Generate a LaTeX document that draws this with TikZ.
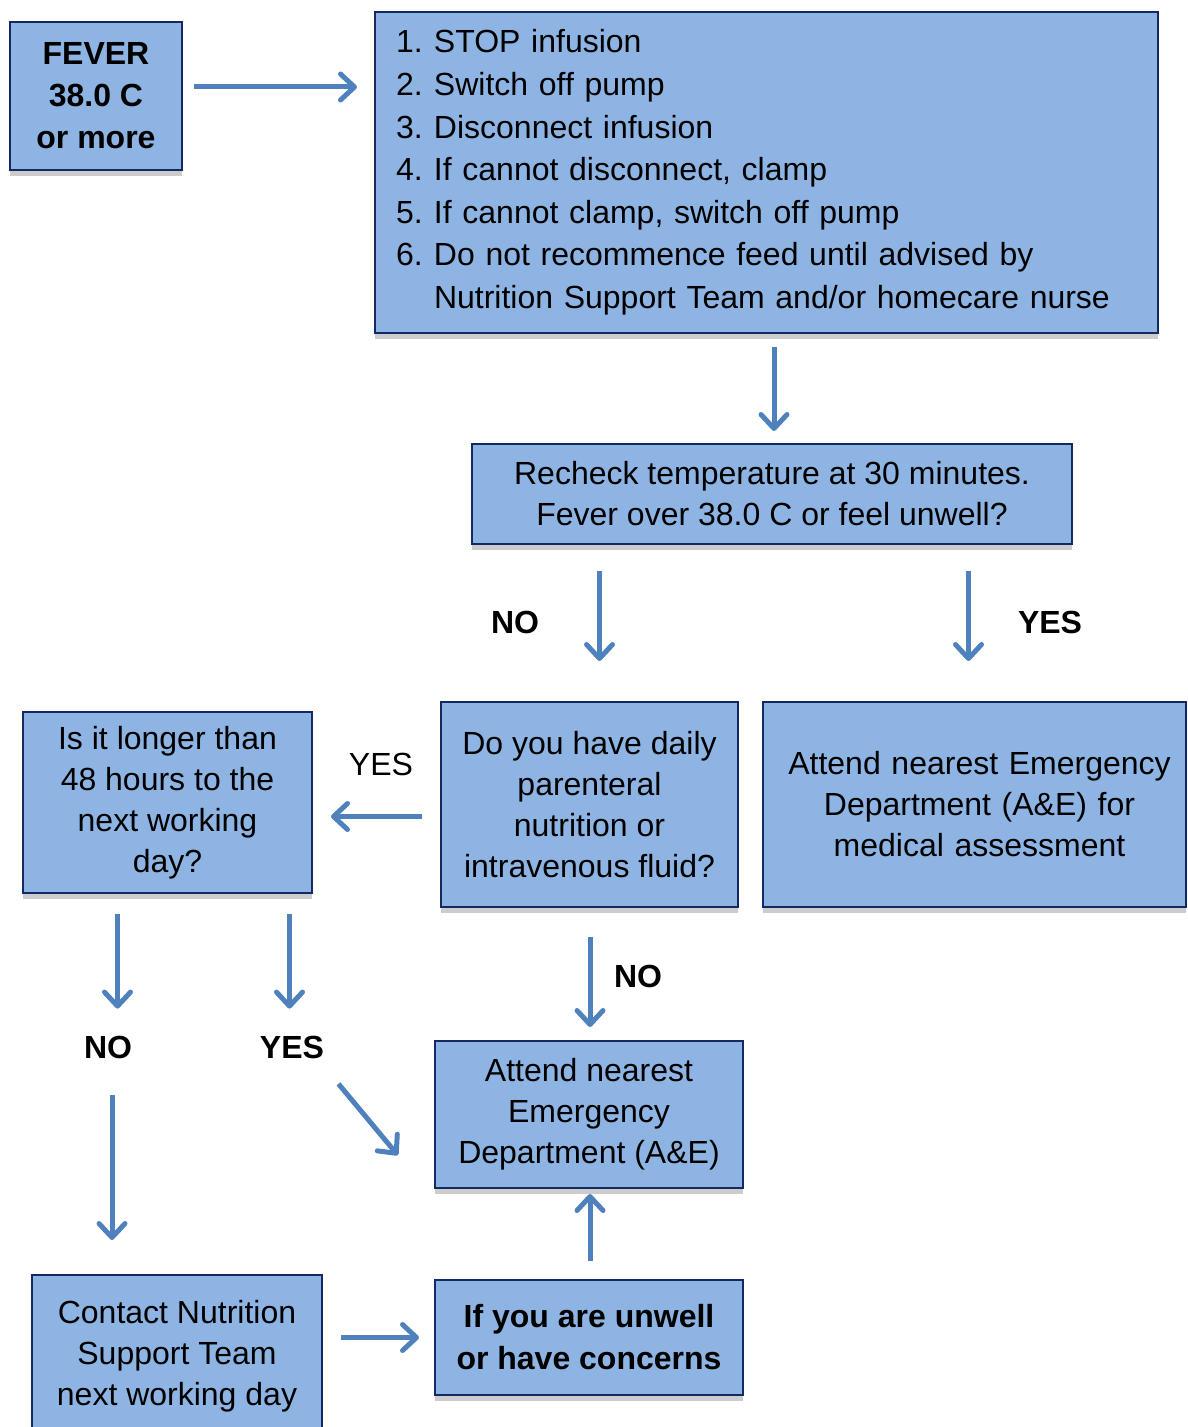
\documentclass[tikz,border=0pt]{standalone}
\usepackage{fontspec}
\setmainfont{Liberation Sans}
\definecolor{boxFill}{RGB}{142,180,227}
\definecolor{boxLine}{RGB}{20,40,100}
\definecolor{flowBlue}{RGB}{79,129,189}
\usetikzlibrary{arrows.meta,shadows}
\newcommand{\stepno}[1]{\makebox[19pt][l]{#1.}}

\begin{document}
\begin{tikzpicture}[
    x=0.5pt, y=-0.5pt,
    box/.style={draw=boxLine, line width=1pt, fill=boxFill, inner sep=0pt, align=center,
      font=\fontsize{16}{20.5}\selectfont,
      drop shadow={shadow xshift=0pt, shadow yshift=-3pt, fill=black!20, opacity=1}},
    flow/.style={draw=flowBlue, line width=2.5pt, -{Straight Barb[length=7pt,width=13pt,round]}},
    lab/.style={font=\fontsize{16}{20}\selectfont\bfseries}
  ]
  \useasboundingbox (0,0) rectangle (1187,1427);
  \node[box, font=\fontsize{16}{21}\selectfont\bfseries, minimum width=86pt, minimum height=74pt]
    (fever) at (96,96) {FEVER\\38.0 C\\or more};
  \node[box, align=left, text width=370.5pt, inner xsep=10.5pt, minimum height=160.5pt,
    font=\fontsize{16}{21.3}\selectfont] (steps) at (766.5,172.5)
    {\stepno{1}STOP infusion\\
     \stepno{2}Switch off pump\\
     \stepno{3}Disconnect infusion\\
     \stepno{4}If cannot disconnect, clamp\\
     \stepno{5}If cannot clamp, switch off pump\\
     \stepno{6}Do not recommence feed until advised by\\
     \hspace*{19pt}Nutrition Support Team and/or homecare nurse};
  \node[box, minimum width=300pt, minimum height=50pt] (recheck) at (772,494)
    {Recheck temperature at 30 minutes.\\Fever over 38.0 C or feel unwell?};
  \node[box, minimum width=148.5pt, minimum height=102.5pt] (daily) at (589.5,804.5)
    {Do you have daily\\parenteral\\nutrition or\\intravenous fluid?};
  \node[box, minimum width=211.5pt, minimum height=102.5pt, inner xsep=0pt, text width=200pt,
    xshift=0pt] (assess) at (974.5,804.5)
    {\hspace*{5pt}\parbox{195pt}{\centering Attend nearest Emergency\\Department (A\&E) for\\medical assessment}};
  \node[box, minimum width=144.5pt, minimum height=90.5pt] (longer) at (167.5,802.5)
    {Is it longer than\\48 hours to the\\next working\\day?};
  \node[box, minimum width=154pt, minimum height=73.5pt] (attend) at (589,1114.5)
    {Attend nearest\\Emergency\\Department (A\&E)};
  \node[box, minimum width=145pt, minimum height=81pt] (contact) at (177,1356)
    {Contact Nutrition\\Support Team\\next working day};
  \node[box, font=\fontsize{16}{21}\selectfont\bfseries, minimum width=154pt, minimum height=57.5pt]
    (unwell) at (589,1337.5) {If you are unwell\\or have concerns};

  \node[lab] (noA) at (515,622) {NO};
  \node[lab] (yesA) at (1050,622) {YES};
  \node[font=\fontsize{16}{20}\selectfont] (yesB) at (381,764) {YES};
  \node[lab] (noC) at (108,1047) {NO};
  \node[lab] (yesC) at (292,1047) {YES};
  \node[lab] (noD) at (638,976) {NO};

  \draw[flow, shorten <=5.5pt, shorten >=8.5pt] ([yshift=4.5pt]fever.east) -- ([yshift=4.5pt]fever.east -| steps.west);
  \draw[flow, shorten <=6.5pt, shorten >=6pt] ([xshift=1pt]recheck.north |- steps.south) -- ([xshift=1pt]recheck.north);
  \draw[flow, shorten <=13pt, shorten >=20pt] ([xshift=5pt]daily.north |- recheck.south) -- ([xshift=5pt]daily.north);
  \draw[flow, shorten <=13pt, shorten >=20pt] ([xshift=-3pt]assess.north |- recheck.south) -- ([xshift=-3pt]assess.north);
  \draw[flow, shorten <=9pt, shorten >=9pt] ([yshift=-6pt]daily.west) -- ([yshift=-6pt]daily.west -| longer.east);
  \draw[flow, shorten <=10pt, shorten >=10pt] ([xshift=-25pt]longer.south) -- ([xshift=-25pt]longer.south |- noC.north);
  \draw[flow, shorten <=10pt, shorten >=10pt] ([xshift=61pt]longer.south) -- ([xshift=61pt]longer.south |- yesC.north);
  \draw[flow, shorten <=15pt, shorten >=17pt] ([xshift=2pt]noC.south) -- ([xshift=2pt]noC.south |- contact.north);
  \draw[flow, shorten <=12pt, shorten >=22pt] ([xshift=-4pt]yesC.south east) -- ([xshift=-4pt]attend.south west);
  \draw[flow, shorten <=14.5pt, shorten >=6.5pt] ([xshift=0.5pt]attend.north |- daily.south) -- ([xshift=0.5pt]attend.north);
  \draw[flow, shorten <=9pt, shorten >=7.5pt] (contact.east |- unwell.west) -- (unwell.west);
  \draw[flow, shorten <=9pt, shorten >=2.5pt] ([xshift=0.5pt]unwell.north) -- ([xshift=0.5pt]unwell.north |- attend.south);
\end{tikzpicture}
\end{document}
